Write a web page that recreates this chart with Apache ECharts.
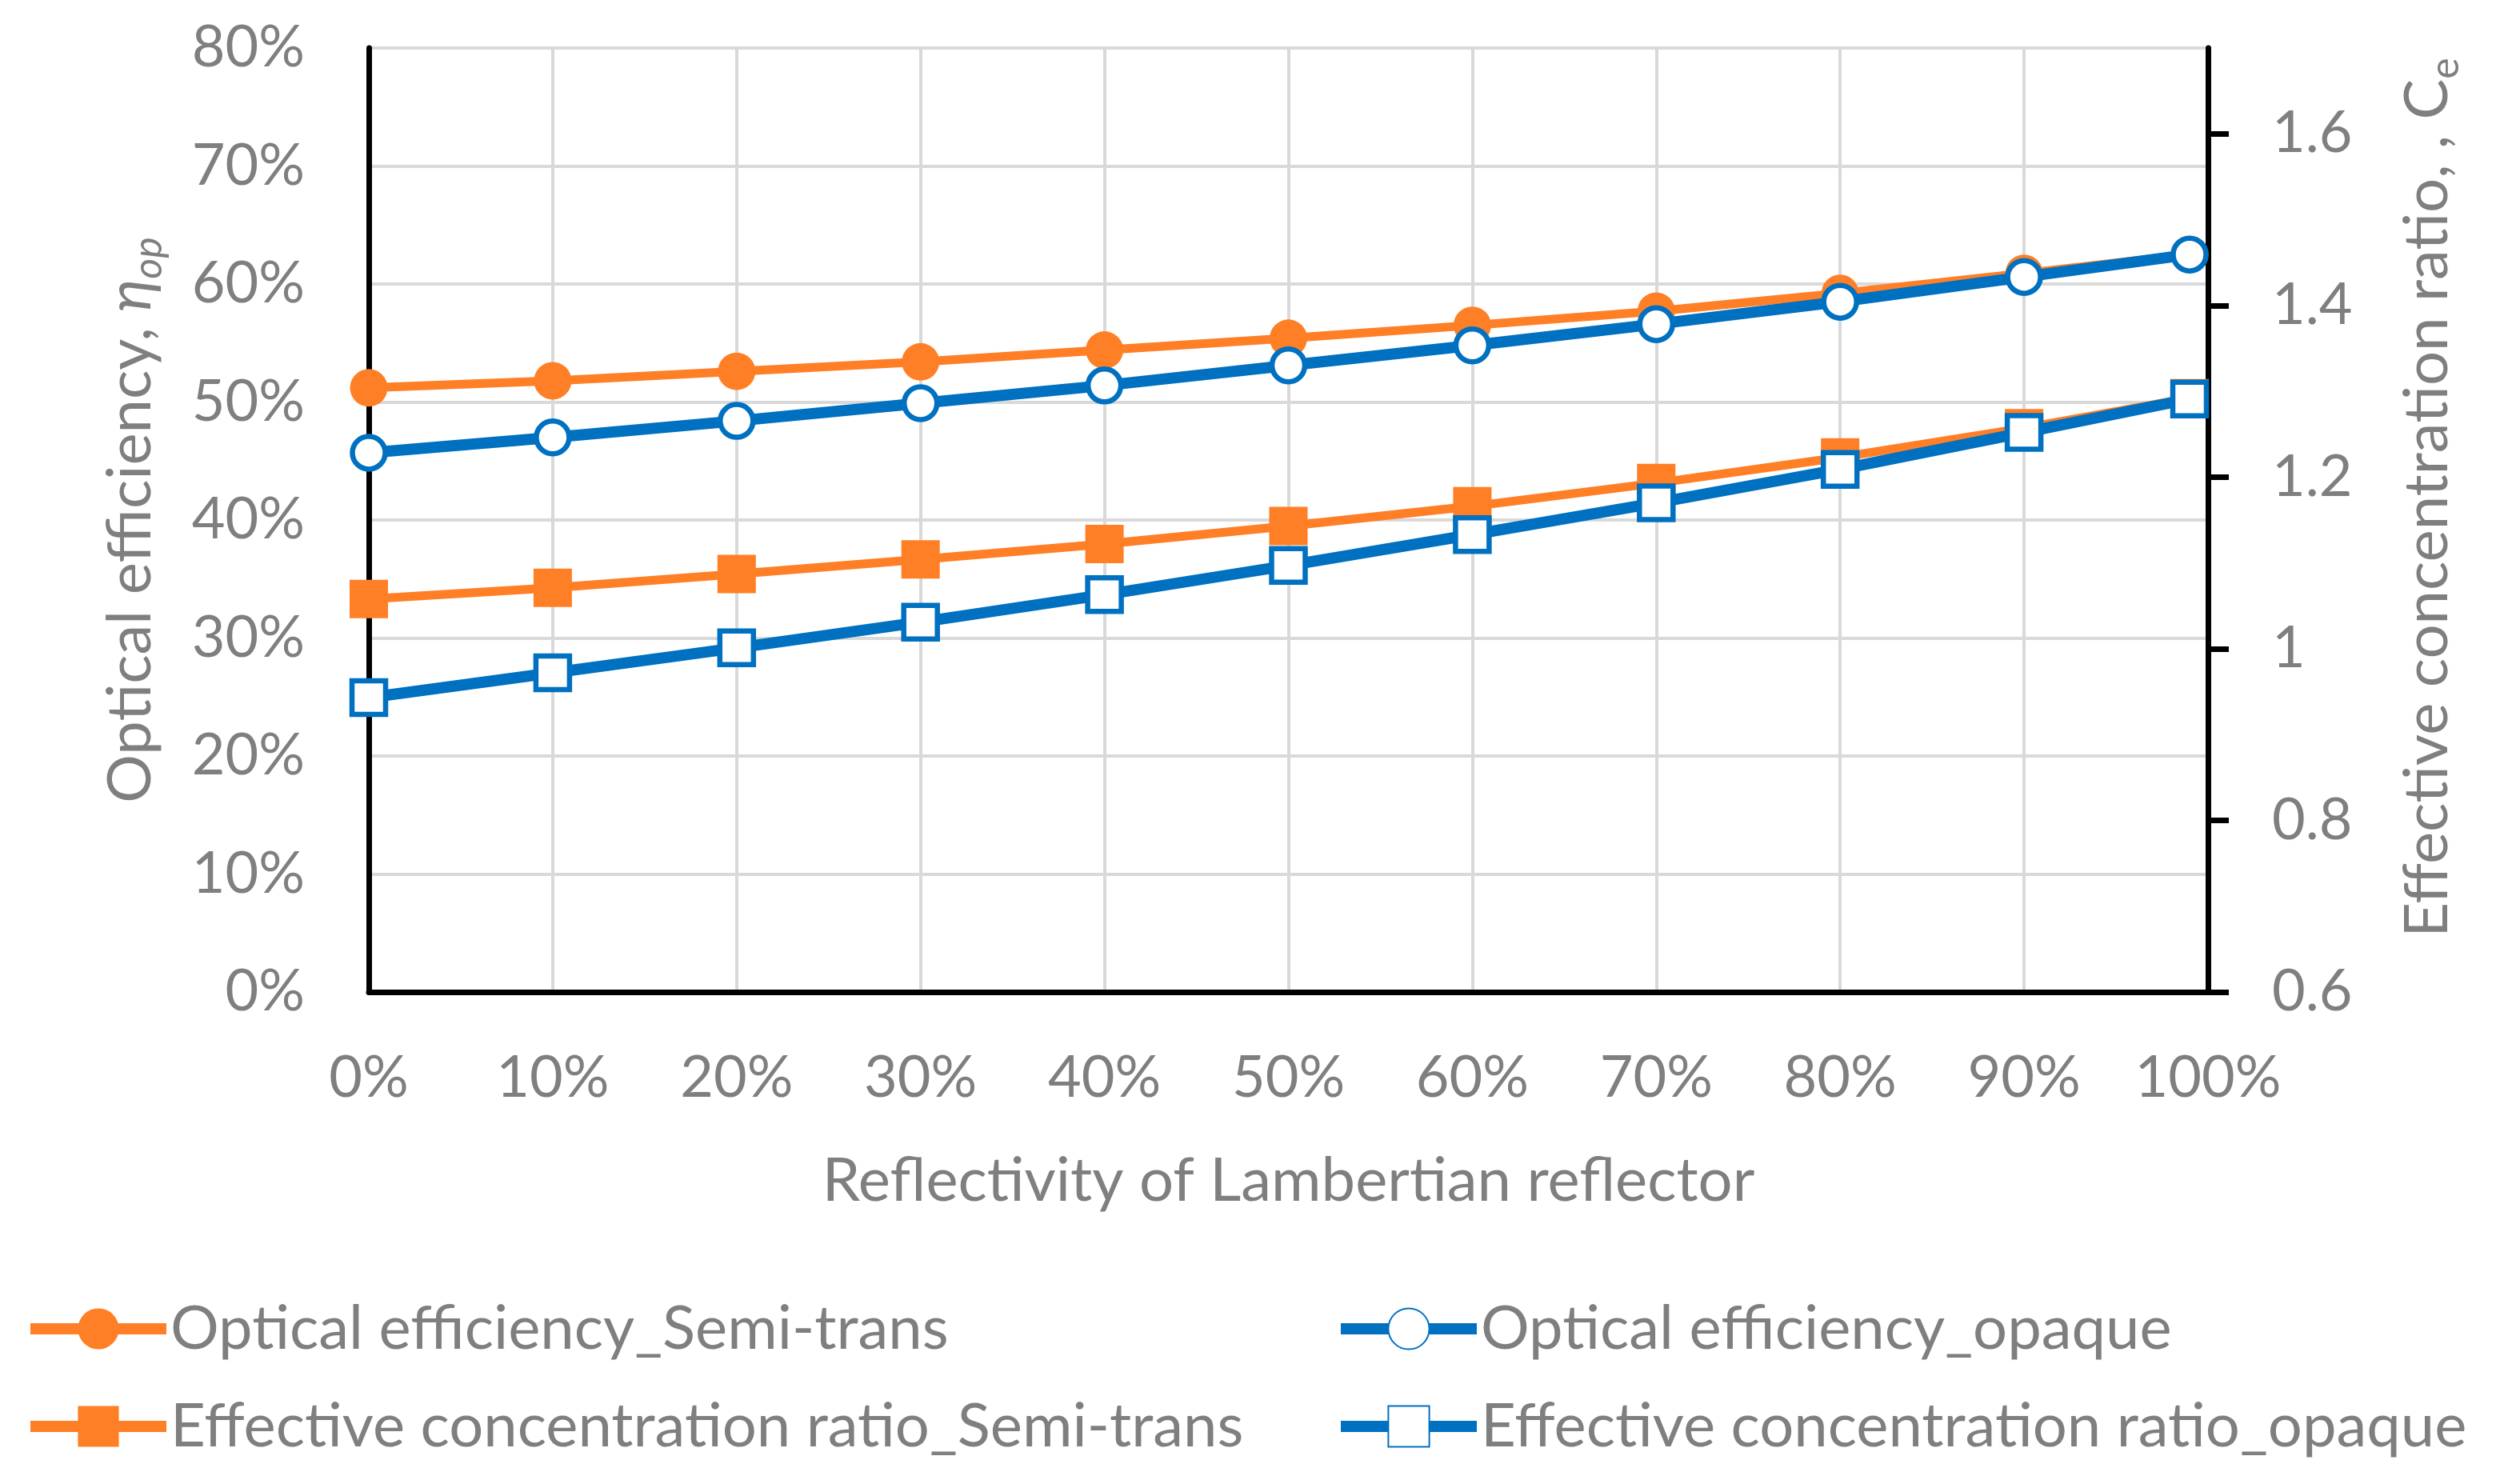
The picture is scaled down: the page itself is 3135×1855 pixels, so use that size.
<!DOCTYPE html>
<html>
<head>
<meta charset="utf-8">
<script src="https://cdn.jsdelivr.net/npm/echarts@6/dist/echarts.min.js"></script>
<style>
html,body{margin:0;padding:0;background:#fff;}
#chart{width:3135px;height:1855px;}
</style>
</head>
<body>
<div id="chart"></div>
<script>
// ---- data ----
const reflectivity = [0, 0.1, 0.2, 0.3, 0.4, 0.5, 0.6, 0.7, 0.8, 0.9, 0.99];
const effSemi   = [0.512, 0.518, 0.526, 0.534, 0.544, 0.554, 0.565, 0.577, 0.592, 0.609, 0.625];
const effOpaque = [0.457, 0.470, 0.484, 0.499, 0.514, 0.531, 0.548, 0.566, 0.585, 0.606, 0.625];
const crSemi    = [1.058, 1.071, 1.087, 1.104, 1.122, 1.143, 1.166, 1.193, 1.223, 1.257, 1.292];
const crOpaque  = [0.943, 0.972, 1.001, 1.031, 1.063, 1.097, 1.133, 1.170, 1.209, 1.252, 1.291];
const rightTicks = [0.6, 0.8, 1, 1.2, 1.4, 1.6];
const seriesNames = [
  'Optical efficiency_Semi-trans',
  'Optical efficiency_opaque',
  'Effective concentration ratio_Semi-trans',
  'Effective concentration ratio_opaque'
];

const FONT = 'Lato';
const GREY = '#7f7f7f';
const ORANGE = '#FF7F27';
const BLUE = '#0070C0';
const FS = 76;

const pairs = (ys) => reflectivity.map((x, i) => [x, ys[i]]);
const pct = (v) => Math.round(v * 100) + '%';

const legendCommon = {
  orient: 'vertical', top: 1618,
  itemWidth: 170, itemHeight: 64, itemGap: 46,
  lineStyle: {width: 14},
  textStyle: {color: GREY, fontSize: FS, fontFamily: FONT}
};

const chart = echarts.init(document.getElementById('chart'), null, {renderer: 'canvas'});
const option = {
  backgroundColor: '#fff',
  animation: false,
  textStyle: {fontFamily: FONT},
  grid: {left: 461, right: 375, top: 60, bottom: 615},
  legend: [
    Object.assign({left: 26, data: [seriesNames[0], seriesNames[2]]}, legendCommon),
    Object.assign({left: 1664, data: [seriesNames[1], seriesNames[3]]}, legendCommon)
  ],
  xAxis: {
    type: 'value', min: 0, max: 1, interval: 0.1,
    name: 'Reflectivity of Lambertian reflector',
    nameLocation: 'middle', nameGap: 198,
    nameTextStyle: {color: GREY, fontSize: FS, fontFamily: FONT},
    axisLine: {show: true, lineStyle: {color: '#000', width: 7}},
    axisTick: {show: false},
    axisLabel: {color: GREY, fontSize: 72, fontFamily: FONT, margin: 72, formatter: pct},
    splitLine: {show: true, lineStyle: {color: '#d9d9d9', width: 4}}
  },
  yAxis: [
    {
      type: 'value', min: 0, max: 0.8, interval: 0.1, position: 'left',
      name: '{a|Optical efficiency, }{i|η}{s|op}',
      nameLocation: 'middle', nameGap: 250,
      nameTextStyle: {
        color: GREY, fontSize: FS, fontFamily: FONT,
        rich: {
          a: {color: GREY, fontSize: FS, fontFamily: FONT, lineHeight: 96},
          i: {color: GREY, fontSize: FS, fontFamily: FONT, fontStyle: 'italic', lineHeight: 96},
          s: {color: GREY, fontSize: 50, fontFamily: FONT, fontStyle: 'italic', lineHeight: 50, verticalAlign: 'bottom'}
        }
      },
      axisLine: {show: true, lineStyle: {color: '#000', width: 7}},
      axisTick: {show: false},
      axisLabel: {color: GREY, fontSize: 72, fontFamily: FONT, margin: 80, formatter: pct},
      splitLine: {show: true, lineStyle: {color: '#d9d9d9', width: 4}}
    },
    {
      type: 'value', min: 0.6, max: 1.7, interval: 0.2, position: 'right',
      name: '{a|Effective concentration ratio, , C}{s|e}',
      nameLocation: 'middle', nameGap: 226,
      nameTextStyle: {
        color: GREY, fontSize: FS, fontFamily: FONT,
        padding: [0, 0, 0, 56],
        rich: {
          a: {color: GREY, fontSize: FS, fontFamily: FONT, lineHeight: 96},
          s: {color: GREY, fontSize: 50, fontFamily: FONT, lineHeight: 50, verticalAlign: 'bottom'}
        }
      },
      axisLine: {show: true, lineStyle: {color: '#000', width: 7}},
      axisTick: {show: true, inside: false, length: 26, lineStyle: {color: '#000', width: 7}, customValues: rightTicks},
      axisLabel: {color: GREY, fontSize: 72, fontFamily: FONT, margin: 80, customValues: rightTicks},
      splitLine: {show: false}
    }
  ],
  series: [
    {
      name: seriesNames[0], type: 'line', yAxisIndex: 0, z: 3,
      data: pairs(effSemi),
      symbol: 'circle', symbolSize: 47,
      lineStyle: {color: ORANGE, width: 11},
      itemStyle: {color: ORANGE, borderColor: ORANGE, borderWidth: 0}
    },
    {
      name: seriesNames[2], type: 'line', yAxisIndex: 1, z: 3,
      data: pairs(crSemi),
      symbol: 'rect', symbolSize: 48,
      lineStyle: {color: ORANGE, width: 11},
      itemStyle: {color: ORANGE, borderColor: ORANGE, borderWidth: 0}
    },
    {
      name: seriesNames[1], type: 'line', yAxisIndex: 0, z: 4,
      data: pairs(effOpaque),
      symbol: 'circle', symbolSize: 41,
      lineStyle: {color: BLUE, width: 14},
      itemStyle: {color: '#fff', borderColor: BLUE, borderWidth: 6.5}
    },
    {
      name: seriesNames[3], type: 'line', yAxisIndex: 1, z: 4,
      data: pairs(crOpaque),
      symbol: 'rect', symbolSize: 42,
      lineStyle: {color: BLUE, width: 14},
      itemStyle: {color: '#fff', borderColor: BLUE, borderWidth: 6.5}
    }
  ]
};
chart.setOption(option);
</script>
</body>
</html>
